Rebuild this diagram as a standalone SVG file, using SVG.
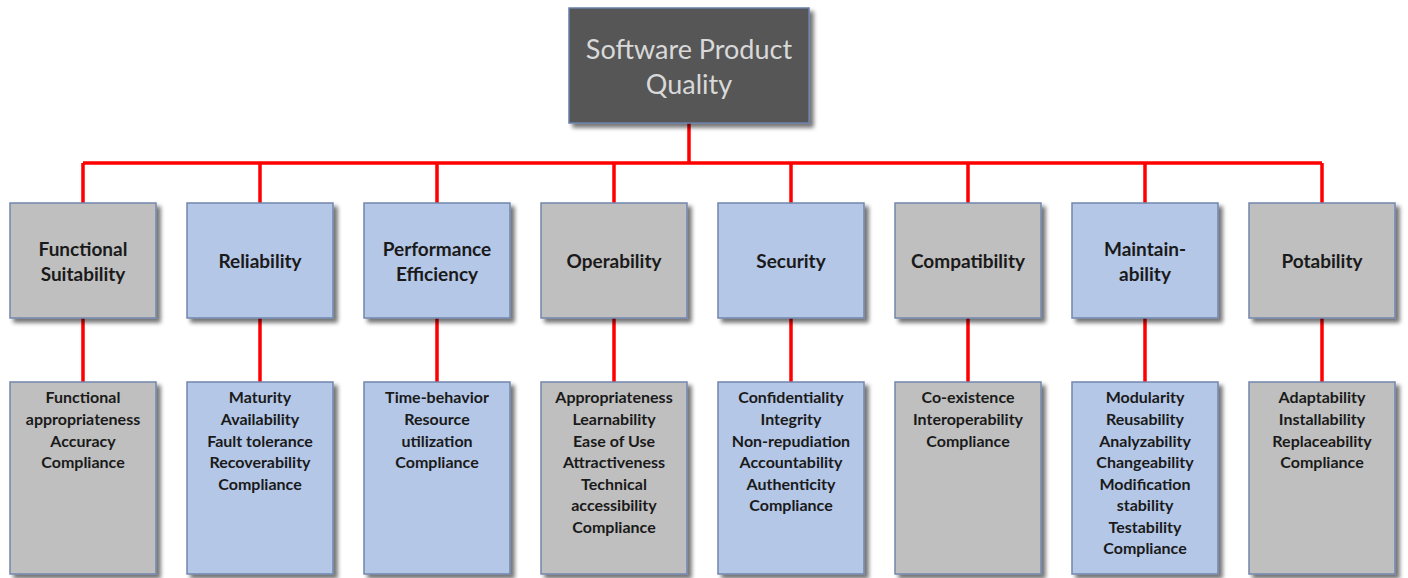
<svg xmlns="http://www.w3.org/2000/svg" width="1408" height="578" viewBox="0 0 1408 578">
<defs>
<filter id="sh" x="-10%" y="-10%" width="130%" height="130%">
<feGaussianBlur in="SourceAlpha" stdDeviation="2"/>
<feOffset dx="4" dy="4" result="b"/>
<feComponentTransfer><feFuncA type="linear" slope="0.55"/></feComponentTransfer>
<feMerge><feMergeNode/><feMergeNode in="SourceGraphic"/></feMerge>
</filter>
<style>
.g{fill:#bfbfbf;stroke:#7186ad;stroke-width:1.5}
.b{fill:#b4c7e7;stroke:#7186ad;stroke-width:1.5}
.c{font-family:Lato,"Open Sans",sans-serif;font-size:19px;font-weight:bold;fill:#1a1a1a;text-anchor:middle}
.d{font-family:Lato,"Open Sans",sans-serif;font-size:16px;font-weight:bold;fill:#1a1a1a;text-anchor:middle}
.t{font-family:Lato,"Open Sans",sans-serif;font-size:27px;fill:#d9d9d9;text-anchor:middle}
.ln{stroke:#ff0000;stroke-width:3.5;fill:none}
</style>
</defs>
<rect width="1408" height="578" fill="#ffffff"/>
<g id="connectors">
<path class="ln" d="M689 123V163M83 163H1322M83 163V203M260 163V203M437 163V203M614 163V203M791 163V203M968 163V203M1145 163V203M1322 163V203"/>
<path class="ln" d="M83 318V382M260 318V382M437 318V382M614 318V382M791 318V382M968 318V382M1145 318V382M1322 318V382"/>
</g>
<g id="root">
<rect x="569" y="8" width="240" height="115" fill="#575757" stroke="#6a7fa8" stroke-width="1.5" filter="url(#sh)"/>
<text class="t" x="689" y="59">Software Product</text>
<text class="t" x="689" y="94">Quality</text>
</g>
<g id="functional-suitability">
<rect class="g" x="10" y="203" width="146" height="115" filter="url(#sh)"/>
<text class="c" x="83" y="256">Functional</text>
<text class="c" x="83" y="281">Suitability</text>
</g>
<g id="reliability">
<rect class="b" x="187" y="203" width="146" height="115" filter="url(#sh)"/>
<text class="c" x="260" y="268">Reliability</text>
</g>
<g id="performance-efficiency">
<rect class="b" x="364" y="203" width="146" height="115" filter="url(#sh)"/>
<text class="c" x="437" y="256">Performance</text>
<text class="c" x="437" y="281">Efficiency</text>
</g>
<g id="operability">
<rect class="g" x="541" y="203" width="146" height="115" filter="url(#sh)"/>
<text class="c" x="614" y="268">Operability</text>
</g>
<g id="security">
<rect class="b" x="718" y="203" width="146" height="115" filter="url(#sh)"/>
<text class="c" x="791" y="268">Security</text>
</g>
<g id="compatibility">
<rect class="g" x="895" y="203" width="146" height="115" filter="url(#sh)"/>
<text class="c" x="968" y="268">Compatibility</text>
</g>
<g id="maintainability">
<rect class="b" x="1072" y="203" width="146" height="115" filter="url(#sh)"/>
<text class="c" x="1145" y="256">Maintain-</text>
<text class="c" x="1145" y="281">ability</text>
</g>
<g id="potability">
<rect class="g" x="1249" y="203" width="146" height="115" filter="url(#sh)"/>
<text class="c" x="1322" y="268">Potability</text>
</g>
<g id="functional-suitability-details">
<rect class="g" x="10" y="382" width="146" height="192" filter="url(#sh)"/>
<text class="d" x="83" y="403">Functional</text>
<text class="d" x="83" y="425">appropriateness</text>
<text class="d" x="83" y="447">Accuracy</text>
<text class="d" x="83" y="468">Compliance</text>
</g>
<g id="reliability-details">
<rect class="b" x="187" y="382" width="146" height="192" filter="url(#sh)"/>
<text class="d" x="260" y="403">Maturity</text>
<text class="d" x="260" y="425">Availability</text>
<text class="d" x="260" y="447">Fault tolerance</text>
<text class="d" x="260" y="468">Recoverability</text>
<text class="d" x="260" y="490">Compliance</text>
</g>
<g id="performance-efficiency-details">
<rect class="b" x="364" y="382" width="146" height="192" filter="url(#sh)"/>
<text class="d" x="437" y="403">Time-behavior</text>
<text class="d" x="437" y="425">Resource</text>
<text class="d" x="437" y="447">utilization</text>
<text class="d" x="437" y="468">Compliance</text>
</g>
<g id="operability-details">
<rect class="g" x="541" y="382" width="146" height="192" filter="url(#sh)"/>
<text class="d" x="614" y="403">Appropriateness</text>
<text class="d" x="614" y="425">Learnability</text>
<text class="d" x="614" y="447">Ease of Use</text>
<text class="d" x="614" y="468">Attractiveness</text>
<text class="d" x="614" y="490">Technical</text>
<text class="d" x="614" y="511">accessibility</text>
<text class="d" x="614" y="533">Compliance</text>
</g>
<g id="security-details">
<rect class="b" x="718" y="382" width="146" height="192" filter="url(#sh)"/>
<text class="d" x="791" y="403">Confidentiality</text>
<text class="d" x="791" y="425">Integrity</text>
<text class="d" x="791" y="447">Non-repudiation</text>
<text class="d" x="791" y="468">Accountability</text>
<text class="d" x="791" y="490">Authenticity</text>
<text class="d" x="791" y="511">Compliance</text>
</g>
<g id="compatibility-details">
<rect class="g" x="895" y="382" width="146" height="192" filter="url(#sh)"/>
<text class="d" x="968" y="403">Co-existence</text>
<text class="d" x="968" y="425">Interoperability</text>
<text class="d" x="968" y="447">Compliance</text>
</g>
<g id="maintainability-details">
<rect class="b" x="1072" y="382" width="146" height="192" filter="url(#sh)"/>
<text class="d" x="1145" y="403">Modularity</text>
<text class="d" x="1145" y="425">Reusability</text>
<text class="d" x="1145" y="447">Analyzability</text>
<text class="d" x="1145" y="468">Changeability</text>
<text class="d" x="1145" y="490">Modification</text>
<text class="d" x="1145" y="511">stability</text>
<text class="d" x="1145" y="533">Testability</text>
<text class="d" x="1145" y="554">Compliance</text>
</g>
<g id="potability-details">
<rect class="g" x="1249" y="382" width="146" height="192" filter="url(#sh)"/>
<text class="d" x="1322" y="403">Adaptability</text>
<text class="d" x="1322" y="425">Installability</text>
<text class="d" x="1322" y="447">Replaceability</text>
<text class="d" x="1322" y="468">Compliance</text>
</g>
</svg>
